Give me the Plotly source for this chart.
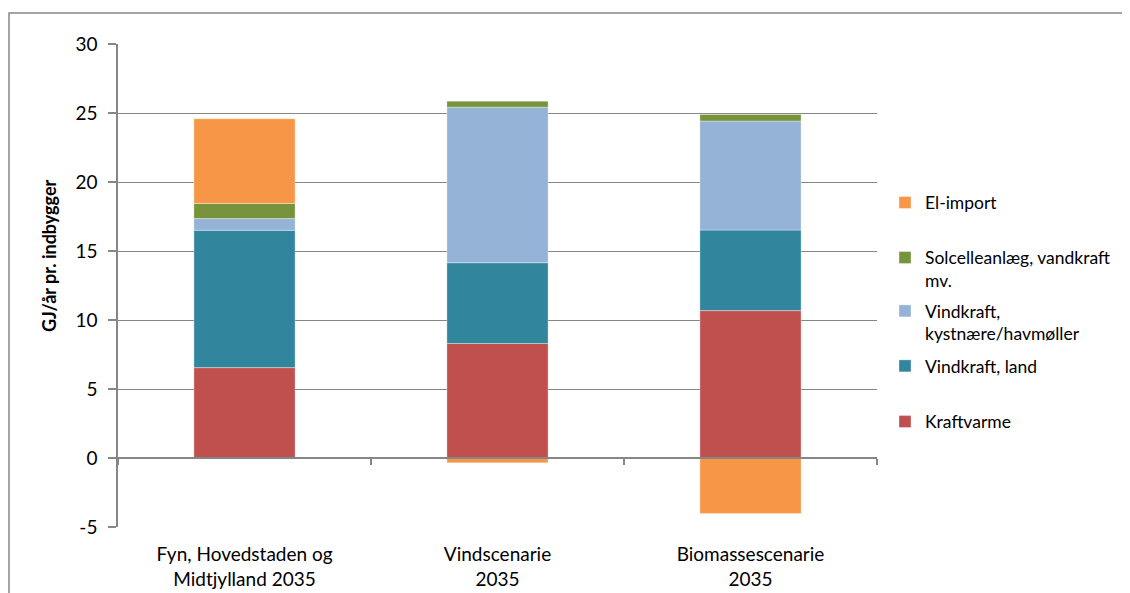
import plotly.graph_objects as go

categories = ["Fyn, Hovedstaden og<br>Midtjylland 2035", "Vindscenarie<br>2035", "Biomassescenarie<br>2035"]
kraftvarme = [6.55, 8.30, 10.68]
vind_land = [9.95, 5.85, 5.84]
vind_hav = [0.85, 11.27, 7.90]
solcelle = [1.10, 0.44, 0.48]
el_import = [6.13, -0.35, -4.03]

series_names = ["Kraftvarme", "Vindkraft, land", "Vindkraft,<br>kystnære/havmøller",
                "Solcelleanlæg, vandkraft<br>mv.", "El-import"]
series_values = [kraftvarme, vind_land, vind_hav, solcelle, el_import]
colors = ["#C0504D", "#31859C", "#95B3D7", "#77933C", "#F79646"]
y_ticks = [-5, 0, 5, 10, 15, 20, 25, 30]

# page body has an 8px margin; figure sized to reach the window's right/bottom edge
OFF = 8
W, H = 1130 - OFF, 593 - OFF
L, T = 118 - OFF, 44 - OFF
R = W - (877 - OFF)
B = H - (527 - OFF)
pw, ph = W - L - R, H - T - B

FONT = "Lato"
TXT = "#000000"
GRID = "#868686"

# legend first-line centre positions (screen px from top)
leg_px = [420.7, 365, 310, 256.7, 201.7]

fig = go.Figure()
legend_keys = ["legend", "legend2", "legend3", "legend4", "legend5"]
for name, vals, col, lk in zip(series_names, series_values, colors, legend_keys):
    fig.add_trace(go.Bar(
        x=categories, y=vals, name=name, marker_color=col,
        marker_line=dict(color="rgba(255,255,255,0.35)", width=1),
        width=0.4, legend=lk,
    ))

# invisible trace for zero-line category axis
fig.add_trace(go.Scatter(x=categories, y=[None] * 3, xaxis="x2", yaxis="y",
                         showlegend=False, hoverinfo="skip", mode="markers"))

plot_bottom = H - B
layout_legends = {}
for i, lk in enumerate(legend_keys):
    top_fig = leg_px[i] - OFF - 17
    layout_legends[lk] = dict(
        x=(885 - OFF - L) / pw, xanchor="left",
        y=(plot_bottom - top_fig) / ph, yanchor="top",
        bgcolor="rgba(0,0,0,0)", borderwidth=0,
        font=dict(family=FONT, size=17.5, color=TXT),
        valign="top", itemclick=False, itemdoubleclick=False,
    )

fig.update_layout(
    width=W, height=H,
    margin=dict(l=L, r=R, t=T, b=B, autoexpand=False),
    paper_bgcolor="white", plot_bgcolor="white",
    barmode="relative",
    font=dict(family=FONT, size=19, color=TXT),
    xaxis=dict(
        type="category", categoryarray=categories, range=[-0.5, 2.5],
        showline=False, showgrid=False, ticks="", zeroline=False,
        tickfont=dict(family=FONT, size=19, color=TXT),
        ticklabelstandoff=14,
    ),
    xaxis2=dict(
        type="category", categoryarray=categories, range=[-0.5, 2.5],
        overlaying="x", anchor="free", position=5 / 35,
        showline=True, linecolor=GRID, linewidth=1.5,
        ticks="outside", tickson="boundaries", ticklen=6, tickcolor=GRID, tickwidth=1.5,
        showticklabels=False, showgrid=False, zeroline=False,
    ),
    yaxis=dict(
        range=[-5, 30], tickvals=y_ticks, ticktext=[str(v) for v in y_ticks],
        showline=True, linecolor=GRID, linewidth=1.5,
        ticks="outside", ticklen=8, tickcolor=GRID, tickwidth=1.5,
        showgrid=True, gridcolor=GRID, gridwidth=1.2, zeroline=False,
        tickfont=dict(family=FONT, size=19, color=TXT),
        ticklabelstandoff=7,
    ),
    annotations=[dict(
        text="<b>GJ/år pr. indbygger</b>", textangle=-90,
        xref="paper", yref="paper", x=0, y=(plot_bottom - (256 - OFF)) / ph,
        xanchor="center", yanchor="middle", xshift=-(L - (49 - OFF)), showarrow=False,
        font=dict(family=FONT, size=18, color=TXT),
    )],
    shapes=[dict(
        type="rect", xref="paper", yref="paper",
        x0=(9 - OFF - L) / pw, x1=(1200 - L) / pw,
        y0=(plot_bottom - 700) / ph, y1=(plot_bottom - (13 - OFF)) / ph,
        line=dict(color="#878787", width=1.5), fillcolor="rgba(0,0,0,0)", layer="below",
    )],
    **layout_legends,
)

fig.write_html("out.html")
